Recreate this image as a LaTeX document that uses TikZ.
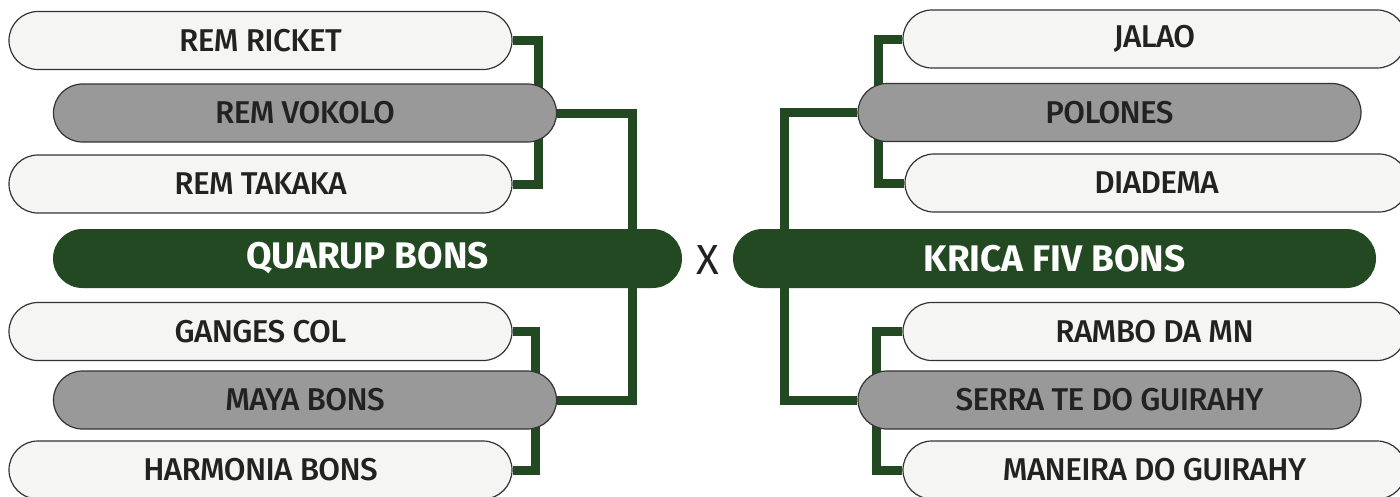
\documentclass[tikz,border=0pt]{standalone}
\usepackage{fontspec}
\setmainfont{Fira Sans}[UprightFont=* Medium,BoldFont=* Bold]
\newfontfamily\versusfont{Fira Sans}
\usetikzlibrary{backgrounds}

\definecolor{clubgreen}{RGB}{35,73,34}
\definecolor{clubgray}{RGB}{153,153,153}
\definecolor{clubwhite}{RGB}{245,245,243}
\definecolor{clubink}{RGB}{34,34,34}

\begin{document}
\begin{tikzpicture}[x=1pt,y=-1pt,
    team/.style={draw=black!80,line width=1.2pt,rounded corners=28.9pt,
      minimum height=58pt,inner sep=0pt,text=clubink,
      font=\fontsize{31.5}{36}\selectfont\addfontfeature{LetterSpace=-2}},
    seed/.style={team,fill=clubwhite,minimum width=503pt},
    semi/.style={team,fill=clubgray,minimum width=503pt},
    final/.style={rounded corners=29.5pt,minimum height=59pt,inner sep=0pt,
      fill=clubgreen,text=white,font=\fontsize{37}{42}\bfseries\selectfont},
    link/.style={draw=clubgreen,line width=9pt}]
  \useasboundingbox (0,0) rectangle (1400,496);

  % left bracket
  \foreach \n/\x/\y/\t in {ricket/260.5/40.5/REM RICKET,takaka/260.5/184/REM TAKAKA,
      ganges/260.5/331.5/GANGES COL,harmonia/260.5/470/HARMONIA BONS}
    \node[seed] (\n) at (\x,\y) {\t};
  \node[semi] (vokolo) at (305,113) {REM VOKOLO};
  \node[semi] (maya) at (305,400) {MAYA BONS};
  \node[final,minimum width=629pt] (quarup) at (367.5,258.5) {QUARUP BONS};

  % right bracket
  \foreach \n/\x/\y/\t in {jalao/1154.5/39/JALAO,diadema/1156.5/183/DIADEMA,
      rambo/1154.5/331.5/RAMBO DA MN,maneira/1154.5/470/MANEIRA DO GUIRAHY}
    \node[seed] (\n) at (\x,\y) {\t};
  \node[semi] (polones) at (1109.5,112.5) {POLONES};
  \node[semi] (serra) at (1109.5,400) {SERRA TE DO GUIRAHY};
  \node[final,minimum width=643pt] (krica) at (1054.5,258.5) {KRICA FIV BONS};

  \node[text=clubink,font=\versusfont\fontsize{42}{48}\selectfont] (versus) at (708,260) {X};

  \begin{scope}[on background layer]
    \draw[link] (ricket.east) -- ++(26,0) |- (takaka.east);
    \draw[link] (ganges.east) -- ++(23,0) |- (harmonia.east);
    \draw[link] (vokolo.east) -| ([xshift=-50pt]quarup.north east);
    \draw[link] ([xshift=-50pt]quarup.south east) |- (maya.east);

    \draw[link] (jalao.west) -- ++(-24,0) |- (diadema.west);
    \draw[link] (rambo.west) -- ++(-26,0) |- (maneira.west);
    \draw[link] (polones.west) -| ([xshift=52pt]krica.north west);
    \draw[link] ([xshift=52pt]krica.south west) |- (serra.west);
  \end{scope}
\end{tikzpicture}
\end{document}
